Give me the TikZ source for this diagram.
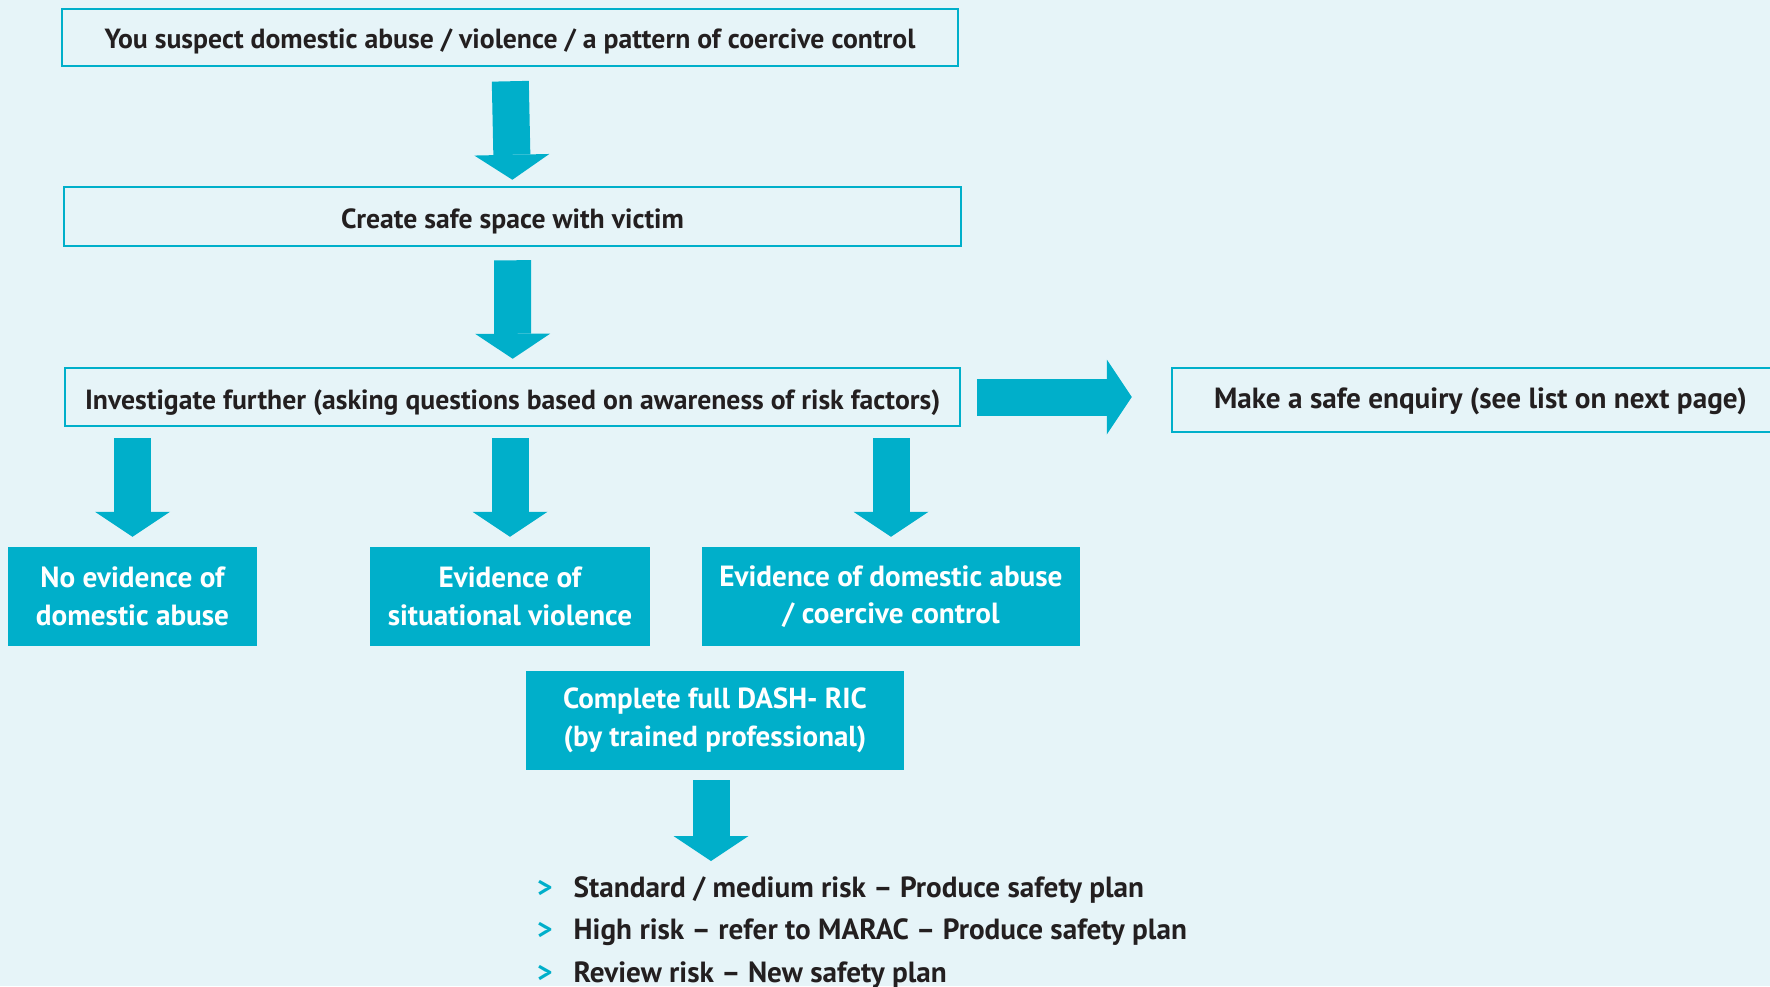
\documentclass[tikz,border=0pt]{standalone}
\usepackage{fontspec}
\setmainfont{PT Sans}
\usetikzlibrary{arrows.meta,calc}
\definecolor{bgc}{HTML}{E6F4F8}
\definecolor{dteal}{HTML}{00AFCA}
\definecolor{ink}{HTML}{231F20}
\begin{document}
\begin{tikzpicture}[x=1pt,y=-1pt,
  txt/.style={font=\bfseries\fontsize{29.2}{37.4}\selectfont},
  stxt/.style={font=\bfseries\fontsize{27.7}{34}\selectfont},
  outbox/.style={draw=dteal, line width=2.5pt, fill=bgc, text=ink, inner sep=0pt, anchor=center, text height=23pt, text depth=0pt},
  fillbox/.style={txt, fill=dteal, text=white, align=center, inner sep=0pt, anchor=center, minimum height=99pt},
  barrow/.style={draw=dteal, line width=37pt, line cap=butt, -{Triangle[width=75pt,length=25pt,line width=0pt]}},
  listtxt/.style={txt, text=ink, anchor=base west, inner sep=0pt},
  chev/.style={txt, text=dteal, anchor=base west, inner sep=0pt},
]
\fill[bgc] (0,0) rectangle (1770,986);
\useasboundingbox (0,0) rectangle (1770,986);
\clip (0,0) rectangle (1770,986);

\node[outbox, stxt, minimum width=896pt, minimum height=57pt, text height=21.6pt] (b1) at (510,37.5)
  {You suspect domestic abuse / violence / a pattern of coercive control};
\node[outbox, stxt, minimum width=897pt, minimum height=59pt] (b2) at (512.5,216.5)
  {Create safe space with victim};
\node[outbox, stxt, minimum width=895pt, minimum height=58pt, text height=24pt] (b3) at (512.7,397)
  {Investigate further (asking questions based on awareness of risk factors)};
\node[outbox, txt, minimum width=617pt, minimum height=64pt, text height=16.6pt] (b4) at (1480.5,400)
  {Make a safe enquiry (see list on next page)};

\node[fillbox, minimum width=249pt] (ba) at (132.5,596.5) {No evidence of\\domestic abuse};
\node[fillbox, minimum width=280pt] (bb) at (510,596.5) {Evidence of\\situational violence};
\node[fillbox, minimum width=378pt] (bc) at (891,596.5) {Evidence of domestic abuse\\/ coercive control};
\node[fillbox, minimum width=378pt, font=\bfseries\fontsize{29}{37.4}\selectfont] (bd) at (715,720.5) {Complete full DASH- RIC\\(by trained professional)};

\node[chev] (c1) at (537,897) {>};
\node[listtxt] (l1) at (573.5,897) {Standard / medium risk – Produce safety plan};
\node[chev] (c2) at (537,939.5) {>};
\node[listtxt] (l2) at (573.5,939.5) {High risk – refer to MARAC – Produce safety plan};
\node[chev] (c3) at (537,982) {>};
\node[listtxt] (l3) at (573.5,982) {Review risk – New safety plan};

\coordinate (tipd) at (711,861);

\draw[barrow, shorten <=14pt, shorten >=6pt] (b1.south) -- (b2.north);
\draw[barrow, shorten <=13pt, shorten >=8pt] (b2.south) -- (b3.north);
\draw[barrow, shorten <=15.5pt, shorten >=39pt] (b3.east) -- (b4.west |- b3.east);
\draw[barrow, shorten <=11pt, shorten >=10pt] (b3.south -| ba.north) -- (ba.north);
\draw[barrow, shorten <=11pt, shorten >=10pt] (b3.south -| bb.north) -- (bb.north);
\draw[barrow, shorten <=11pt, shorten >=10pt] (b3.south -| bc.north) -- (bc.north);
\draw[barrow, shorten <=10pt] (bd.south -| tipd) -- (tipd);
\end{tikzpicture}
\end{document}
